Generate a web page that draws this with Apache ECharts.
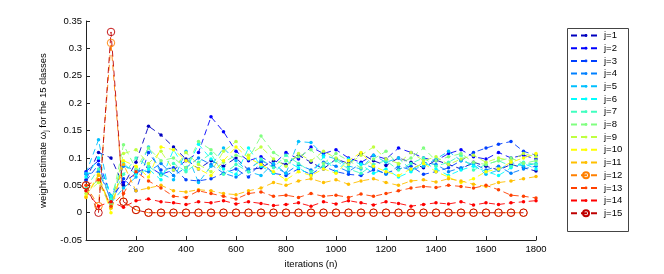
<!DOCTYPE html>
<html><head><meta charset="utf-8">
<script src="https://cdn.jsdelivr.net/npm/echarts@6/dist/echarts.min.js"></script>
<style>html,body{margin:0;padding:0;background:#fff}#c{width:664px;height:274px}</style>
</head><body><div id="c"></div>
<script>
const iters = [0,50,100,150,200,250,300,350,400,450,500,550,600,650,700,750,800,850,900,950,1000,1050,1100,1150,1200,1250,1300,1350,1400,1450,1500,1550,1600,1650,1700,1750,1800];
const xTicks = [200,400,600,800,1000,1200,1400,1600,1800];
const yTicks = [-0.05,0,0.05,0.1,0.15,0.2,0.25,0.3,0.35];
const names = ['j=1','j=2','j=3','j=4','j=5','j=6','j=7','j=8','j=9','j=10','j=11','j=12','j=13','j=14','j=15'];
const j1 = [0.060,0.110,0.100,0.050,0.092,0.158,0.142,0.120,0.098,0.080,0.095,0.085,0.100,0.078,0.082,0.095,0.088,0.105,0.092,0.080,0.098,0.090,0.108,0.095,0.086,0.100,0.092,0.082,0.096,0.088,0.080,0.092,0.085,0.078,0.088,0.082,0.076];
const j2 = [0.075,0.095,0.030,0.055,0.072,0.085,0.070,0.078,0.095,0.110,0.175,0.148,0.112,0.095,0.102,0.088,0.110,0.098,0.120,0.108,0.115,0.100,0.092,0.105,0.098,0.118,0.110,0.100,0.095,0.108,0.115,0.102,0.098,0.110,0.100,0.105,0.098];
const j3 = [0.058,0.088,0.020,0.062,0.040,0.110,0.078,0.082,0.060,0.058,0.062,0.072,0.080,0.065,0.092,0.072,0.068,0.080,0.070,0.085,0.075,0.070,0.068,0.078,0.072,0.080,0.085,0.070,0.075,0.082,0.095,0.110,0.118,0.125,0.130,0.112,0.105];
const j4 = [0.070,0.075,0.025,0.085,0.078,0.075,0.090,0.068,0.082,0.100,0.088,0.072,0.065,0.080,0.095,0.085,0.072,0.088,0.078,0.092,0.085,0.075,0.090,0.082,0.070,0.085,0.078,0.092,0.088,0.075,0.082,0.090,0.078,0.085,0.072,0.080,0.085];
const j5 = [0.072,0.133,0.018,0.045,0.065,0.120,0.072,0.060,0.112,0.055,0.085,0.118,0.095,0.075,0.068,0.090,0.072,0.130,0.128,0.105,0.098,0.085,0.080,0.105,0.092,0.100,0.078,0.085,0.098,0.112,0.095,0.088,0.070,0.078,0.092,0.085,0.090];
const j6 = [0.065,0.100,0.030,0.090,0.070,0.080,0.060,0.115,0.078,0.125,0.098,0.080,0.070,0.118,0.085,0.072,0.095,0.082,0.068,0.102,0.075,0.098,0.088,0.072,0.080,0.065,0.075,0.092,0.080,0.068,0.078,0.085,0.075,0.068,0.082,0.090,0.080];
const j7 = [0.045,0.080,0.025,0.070,0.100,0.085,0.068,0.090,0.075,0.092,0.108,0.070,0.088,0.075,0.098,0.082,0.105,0.090,0.075,0.085,0.095,0.080,0.072,0.088,0.095,0.078,0.090,0.100,0.085,0.092,0.105,0.078,0.088,0.095,0.085,0.092,0.088];
const j8 = [0.040,0.060,0.015,0.124,0.080,0.118,0.095,0.100,0.082,0.130,0.115,0.092,0.105,0.098,0.140,0.110,0.095,0.102,0.115,0.090,0.108,0.095,0.082,0.098,0.112,0.088,0.100,0.118,0.095,0.102,0.108,0.092,0.088,0.095,0.100,0.090,0.095];
const j9 = [0.035,0.055,0.010,0.108,0.115,0.090,0.112,0.078,0.110,0.088,0.075,0.112,0.130,0.105,0.120,0.098,0.085,0.108,0.095,0.112,0.100,0.088,0.105,0.120,0.098,0.090,0.110,0.095,0.102,0.088,0.098,0.105,0.092,0.100,0.095,0.108,0.102];
const j10 = [0.030,0.070,0.000,0.095,0.085,0.065,0.120,0.115,0.095,0.080,0.068,0.095,0.120,0.100,0.088,0.075,0.060,0.075,0.068,0.080,0.072,0.095,0.110,0.085,0.075,0.068,0.080,0.090,0.075,0.065,0.055,0.062,0.075,0.080,0.092,0.100,0.108];
const j11 = [0.028,0.068,0.008,0.088,0.040,0.045,0.050,0.040,0.038,0.042,0.040,0.035,0.033,0.040,0.045,0.055,0.050,0.058,0.062,0.055,0.060,0.052,0.058,0.062,0.055,0.050,0.058,0.060,0.056,0.062,0.058,0.052,0.048,0.055,0.058,0.062,0.066];
const j12 = [0.050,0.012,0.310,0.020,0.005,0,0,0,0,0,0,0,0,0,0,0,0,0,0,0,0,0,0,0,0,0,0,0,0,0,0,0,0,0,0,0];
const j13 = [0.050,0.060,0.012,0.035,0.075,0.058,0.045,0.030,0.028,0.040,0.035,0.030,0.025,0.035,0.038,0.030,0.032,0.028,0.035,0.030,0.032,0.028,0.034,0.030,0.035,0.040,0.045,0.048,0.046,0.050,0.048,0.045,0.050,0.042,0.032,0.030,0.027];
const j14 = [0.040,0.012,0.020,0.010,0.022,0.025,0.020,0.018,0.015,0.020,0.018,0.022,0.016,0.020,0.017,0.013,0.015,0.018,0.012,0.020,0.016,0.022,0.018,0.014,0.020,0.017,0.012,0.015,0.018,0.016,0.020,0.014,0.018,0.015,0.018,0.020,0.022];
const j15 = [0.050,0.000,0.330,0.020,0.005,0,0,0,0,0,0,0,0,0,0,0,0,0,0,0,0,0,0,0,0,0,0,0,0,0,0,0,0,0,0,0];
const values = [j1,j2,j3,j4,j5,j6,j7,j8,j9,j10,j11,j12,j13,j14,j15];
const colors = ['rgb(0,0,191)','rgb(0,0,255)','rgb(0,64,255)','rgb(0,128,255)','rgb(0,191,255)','rgb(0,255,255)','rgb(64,255,191)','rgb(128,255,128)','rgb(191,255,64)','rgb(255,255,0)','rgb(255,191,0)','rgb(255,128,0)','rgb(255,64,0)','rgb(255,0,0)','rgb(191,0,0)'];
const circleSeries = [11,14];
const FONT = 'Liberation Sans, Arial, Helvetica, sans-serif';

const series = values.map((arr, k) => {
  const circ = circleSeries.includes(k);
  return {
    name: names[k], type: 'line',
    data: arr.map((v, i) => [iters[i], v]),
    symbol: 'circle',
    symbolSize: circ ? 7.5 : 3.5,
    showSymbol: true, showAllSymbol: true,
    lineStyle: {color: colors[k], width: 0.9, type: [6,4]},
    itemStyle: circ
      ? {color: 'rgba(255,255,255,0)', borderColor: colors[k], borderWidth: 0.9}
      : {color: colors[k], borderWidth: 0},
    emphasis: {disabled: true}
  };
});

// legend rows
const ROW = 12.7, FIRST = 35.5, LX = 570;
function legendBlock(from, to, iconH) {
  return {
    orient: 'vertical', left: LX, top: FIRST + from * ROW - ROW / 2,
    data: names.slice(from, to + 1),
    itemWidth: 30, itemHeight: iconH, itemGap: 0, padding: 0,
    textStyle: {fontFamily: FONT, fontSize: 9.5, color: '#000', lineHeight: ROW, padding: [0,0,0,-2]},
    selectedMode: false
  };
}

const chart = echarts.init(document.getElementById('c'), null, {renderer: 'canvas'});
chart.setOption({
  animation: false,
  textStyle: {fontFamily: FONT},
  grid: {left: 86, right: 128, top: 21, bottom: 31, containLabel: false},
  xAxis: {
    type: 'value', min: 0, max: 1800, interval: 200,
    name: 'iterations (n)', nameLocation: 'middle', nameGap: 14,
    nameTextStyle: {fontFamily: FONT, fontSize: 9.5, color: '#000'},
    axisLine: {onZero: false, lineStyle: {color: '#222', width: 1}},
    axisTick: {inside: true, length: 4, lineStyle: {color: '#222'}},
    axisLabel: {showMinLabel: false, fontFamily: FONT, fontSize: 9.5, color: '#000', margin: 4,
      formatter: v => xTicks.includes(v) ? String(v) : ''},
    splitLine: {show: false}
  },
  yAxis: {
    type: 'value', min: -0.05, max: 0.35, interval: 0.05,
    name: 'weight estimate ω{s|j} for the 15 classes', nameLocation: 'middle', nameGap: 27, nameRotate: 90,
    nameTextStyle: {fontFamily: FONT, fontSize: 9.5, color: '#000',
      rich: {s: {fontFamily: FONT, fontSize: 7, color: '#000', padding: [6, 0, 0, 0]}}},
    axisLine: {show: true, onZero: false, lineStyle: {color: '#222', width: 1}},
    axisTick: {show: true, inside: true, length: 4, lineStyle: {color: '#222'}},
    axisLabel: {fontFamily: FONT, fontSize: 9.5, color: '#000', margin: 4,
      formatter: v => { const t = yTicks.find(y => Math.abs(y - v) < 1e-9); return t === undefined ? '' : String(+t.toFixed(2)); }},
    splitLine: {show: false}
  },
  legend: [
    legendBlock(0, 10, 3.5),
    legendBlock(11, 11, 7.5),
    legendBlock(12, 13, 3.5),
    legendBlock(14, 14, 7.5)
  ],
  graphic: [{
    type: 'rect', left: 565, top: 26, z: 100,
    shape: {width: 61, height: 203},
    style: {fill: 'none', stroke: '#444', lineWidth: 1}
  }],
  series: series
});
</script>
</body></html>
